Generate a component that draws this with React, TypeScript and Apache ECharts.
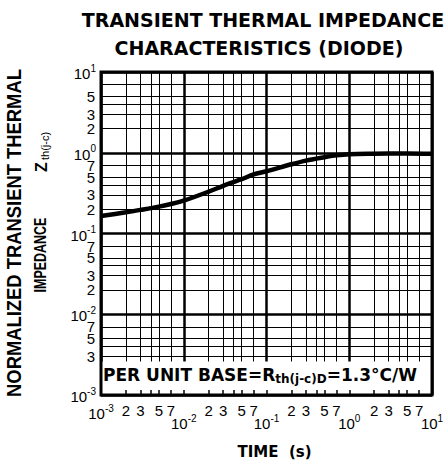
import React, { useEffect, useRef } from 'react';
import * as echarts from 'echarts';

// Transient thermal impedance curve (per unit)
const TIME_S = [0.001, 0.002, 0.003, 0.005, 0.007, 0.01, 0.02, 0.03, 0.05, 0.07, 0.1, 0.2, 0.3, 0.5, 0.7, 1, 2, 3, 5, 10];
const ZTH = [0.165, 0.183, 0.196, 0.215, 0.232, 0.255, 0.33, 0.39, 0.47, 0.54, 0.59, 0.72, 0.8, 0.88, 0.93, 0.96, 0.975, 0.98, 0.98, 0.97];

// log axis decades (exponents) and minor multipliers
const DECADE_MIN = -3;
const DECADE_MAX = 1;
const GRID_MULTS = [2, 3, 4, 5, 7];
const LABEL_MULTS = [2, 3, 5, 7];

const TITLE_LINES = ['TRANSIENT THERMAL IMPEDANCE', 'CHARACTERISTICS (DIODE)'];
const Y_NAME_1 = 'NORMALIZED TRANSIENT THERMAL';
const Y_NAME_2 = 'IMPEDANCE';
const Y_SYMBOL = 'Z';
const Y_SYMBOL_SUB = 'th(j-c)';
const X_NAME = 'TIME  (s)';
const NOTE_PARTS = ['PER UNIT BASE=R', 'th(j-c)D', '=1.3°C/W'];
const NOTE_BOX_TOP = 0.0026;

const FONT = '"Liberation Sans", Arial, sans-serif';
const DJV = '"DejaVu Sans", sans-serif';

function minorVals(mults: number[]): number[] {
  const out: number[] = [];
  for (let d = DECADE_MIN; d < DECADE_MAX; d++) {
    for (const m of mults) out.push(d + Math.log10(m));
  }
  return out;
}
function decadeVals(): number[] {
  const out: number[] = [];
  for (let d = DECADE_MIN; d <= DECADE_MAX; d++) out.push(d);
  return out;
}
const isInt = (v: number) => Math.abs(v - Math.round(v)) < 1e-6;
const decadeLabel = (v: number) => `{b|10}{s|${Math.round(v)}}`;
const minorLabel = (v: number) => {
  if (isInt(v)) return decadeLabel(v);
  const d = Math.floor(v + 1e-9);
  return String(Math.round(Math.pow(10, v - d)));
};

const richNums = {
  b: { fontFamily: FONT, fontSize: 15, color: '#000', lineHeight: 18, verticalAlign: 'bottom' },
  s: { fontFamily: FONT, fontSize: 10, color: '#000', lineHeight: 18, verticalAlign: 'top' },
};

export default function App() {
  const ref = useRef<HTMLDivElement>(null);
  useEffect(() => {
    if (!ref.current) return;
    const chart = echarts.init(ref.current, undefined, { renderer: 'svg' });
    const data = TIME_S.map((t, i) => [Math.log10(t), Math.log10(ZTH[i])]);
    const gridMinor = minorVals(GRID_MULTS);
    const labelMinor = minorVals(LABEL_MULTS);
    const allTicks = [...decadeVals(), ...gridMinor];

    const baseAxis = {
      type: 'value',
      min: DECADE_MIN,
      max: DECADE_MAX,
      axisLine: { show: false, onZero: false },
    };

    const option: any = {
      animation: false,
      backgroundColor: '#fff',
      grid: {
        left: 101, right: 16, top: 72, bottom: 66,
        show: true, borderWidth: 3, borderColor: '#000', backgroundColor: 'transparent', z: 3,
      },
      graphic: [
        {
          type: 'text', x: 263, y: 20,
          style: { text: TITLE_LINES[0], align: 'center', verticalAlign: 'middle', font: `bold 19px ${DJV}`, fill: '#000' },
        },
        {
          type: 'text', x: 259, y: 48,
          style: { text: TITLE_LINES[1], align: 'center', verticalAlign: 'middle', font: `bold 19px ${DJV}`, fill: '#000' },
        },
        {
          type: 'text', x: 14, y: 233, rotation: Math.PI / 2, scaleX: 0.92,
          style: { text: Y_NAME_1, align: 'center', verticalAlign: 'middle', font: `bold 20px ${FONT}`, fill: '#000' },
        },
        {
          type: 'text', x: 40, y: 255, rotation: Math.PI / 2, scaleX: 0.78,
          style: { text: Y_NAME_2, align: 'center', verticalAlign: 'middle', font: `bold 16px ${FONT}`, fill: '#000' },
        },
        {
          type: 'text', x: 41, y: 167, rotation: Math.PI / 2,
          style: { text: Y_SYMBOL, align: 'center', verticalAlign: 'middle', font: `bold 16px ${FONT}`, fill: '#000' },
        },
        {
          type: 'text', x: 45, y: 146, rotation: Math.PI / 2,
          style: { text: Y_SYMBOL_SUB, align: 'center', verticalAlign: 'middle', font: `11px ${FONT}`, fill: '#000' },
        },
      ],
      xAxis: [
        {
          ...baseAxis, position: 'bottom', interval: 1,
          axisTick: { show: false },
          splitLine: { show: true, lineStyle: { color: '#000', width: 2.5 } },
          axisLabel: {
            margin: 18, color: '#000',
            formatter: (v: number) => (Math.round(v) === DECADE_MIN ? '' : decadeLabel(v)),
            rich: richNums,
          },
          name: X_NAME, nameLocation: 'middle', nameGap: 49,
          nameTextStyle: { fontFamily: DJV, fontWeight: 'bold', fontSize: 15, color: '#000', padding: [0, 0, 0, 16] },
        },
        {
          ...baseAxis, position: 'bottom',
          axisTick: { show: false, customValues: gridMinor },
          splitLine: { show: true, lineStyle: { color: '#000', width: 1 } },
          axisLabel: {
            margin: 8, color: '#000', fontFamily: FONT, fontSize: 15,
            customValues: [DECADE_MIN, ...labelMinor],
            formatter: (v: number) => minorLabel(v),
            rich: richNums,
          },
        },
        {
          ...baseAxis, position: 'bottom', z: 6,
          axisTick: { show: true, inside: true, length: 5, customValues: allTicks, lineStyle: { color: '#000', width: 1.5 } },
          splitLine: { show: false },
          axisLabel: { show: false },
        },
      ],
      yAxis: [
        {
          ...baseAxis, position: 'left', interval: 1,
          axisTick: { show: false },
          splitLine: { show: true, lineStyle: { color: '#000', width: 2.5 } },
          axisLabel: { margin: 5, color: '#000', formatter: (v: number) => decadeLabel(v), rich: richNums },
        },
        {
          ...baseAxis, position: 'left',
          axisTick: { show: false, customValues: gridMinor },
          splitLine: { show: true, lineStyle: { color: '#000', width: 1 } },
          axisLabel: {
            margin: 6, color: '#000', fontFamily: FONT, fontSize: 15,
            customValues: labelMinor,
            formatter: (v: number) => minorLabel(v),
          },
        },
      ],
      series: [
        {
          type: 'line',
          xAxisIndex: 0,
          yAxisIndex: 0,
          data,
          smooth: 0.3,
          symbol: 'none',
          lineStyle: { color: '#000', width: 4.5 },
          z: 2,
          markArea: {
            silent: true,
            itemStyle: { color: '#fff', opacity: 1 },
            label: {
              show: true, position: 'insideLeft', distance: 2, offset: [0, -3],
              formatter: `{n|${NOTE_PARTS[0]}}{sub|${NOTE_PARTS[1]}}{n|${NOTE_PARTS[2]}}`,
              rich: {
                n: { fontFamily: DJV, fontWeight: 'bold', fontSize: 17, color: '#000', lineHeight: 20, verticalAlign: 'middle' },
                sub: { fontFamily: DJV, fontWeight: 'bold', fontSize: 12, color: '#000', lineHeight: 20, verticalAlign: 'bottom' },
              },
            },
            data: [[
              { xAxis: DECADE_MIN, yAxis: DECADE_MIN },
              { xAxis: DECADE_MAX, yAxis: Math.log10(NOTE_BOX_TOP) },
            ]],
          },
        },
      ],
    };
    chart.setOption(option);
    return () => chart.dispose();
  }, []);
  return <div ref={ref} style={{ position: 'absolute', left: 0, top: 0, width: 448, height: 464 }} />;
}
